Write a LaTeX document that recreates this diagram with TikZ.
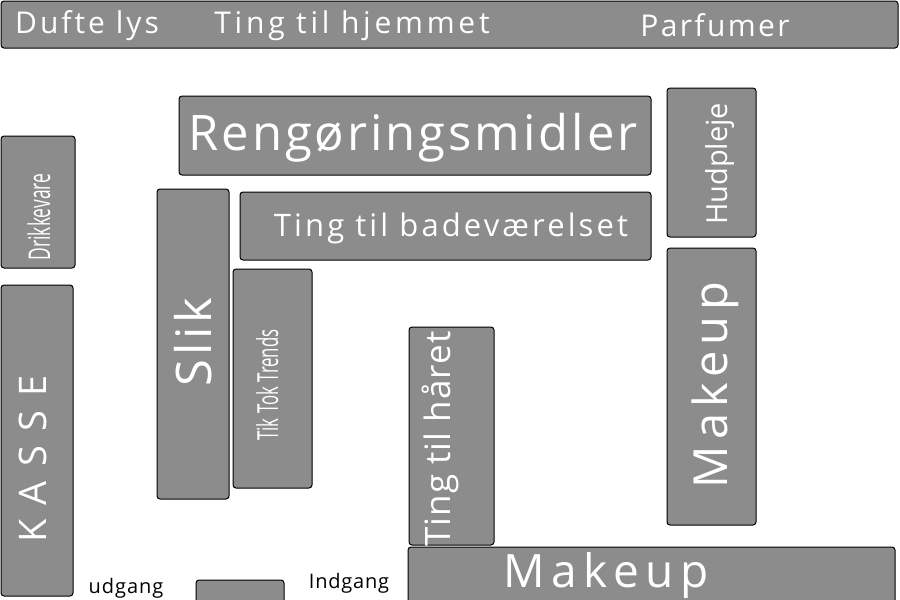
\documentclass[tikz,border=0pt]{standalone}
\usepackage{fontspec}
\setmainfont{Open Sans}
\newfontfamily\narrowfont[FakeStretch=0.58]{Open Sans}
\usetikzlibrary{positioning}
\definecolor{shelfgray}{RGB}{140,140,140}
\newcommand\lsize[2]{\fontsize{#1}{#1}\selectfont\addfontfeature{LetterSpace=#2}}

\begin{document}
\begin{tikzpicture}[x=1pt, y=-1pt,
    shelf/.style={draw=black, line width=1pt, fill=shelfgray, rounded corners=3pt, inner sep=0pt},
    lbl/.style={text=white, inner sep=0pt, anchor=base},
    floor/.style={text=black, inner sep=0pt, anchor=base}
]
    \useasboundingbox (0,0) rectangle (900,600);
    % hylder
    \node[shelf, minimum width=897, minimum height=47] (top) at (449.5,24.5) {};
    \node[shelf, minimum width=472, minimum height=79] (reng) at (415,135.5) {};
    \node[shelf, minimum width=74, minimum height=132] (drik) at (38,202) {};
    \node[shelf, minimum width=72, minimum height=310] (slik) at (193,344) {};
    \node[shelf, minimum width=411, minimum height=68] (bad) at (445.5,226) {};
    \node[shelf, minimum width=79, minimum height=219] (tiktok) at (272.5,378.5) {};
    \node[shelf, minimum width=89, minimum height=149] (hud) at (711.5,162.5) {};
    \node[shelf, minimum width=89, minimum height=277] (makeA) at (711.5,386.5) {};
    \node[shelf, minimum width=85, minimum height=218] (haar) at (451.5,436) {};
    \node[shelf, minimum width=72, minimum height=311] (kasse) at (37,440.5) {};
    \node[shelf, minimum width=487, minimum height=83] (makeB) at (651.5,588.5) {};
    \node[shelf, minimum width=88, minimum height=50] (dor) at (240,605) {};

    % tekster
    \node[lbl, font=\lsize{30}{10}] (tDufte) at (87,33) {Dufte lys};
    \node[lbl, font=\lsize{30}{12.5}] (tHjem) at (352,33) {Ting til hjemmet};
    \node[lbl, font=\lsize{30}{8}] (tParf) at (715,36) {Parfumer};
    \node[lbl, font=\lsize{49}{6}] (tReng) at (413,150) {Rengøringsmidler};
    \node[lbl, font=\lsize{31}{10}] (tBad) at (451,236) {Ting til badeværelset};
    \node[lbl, font=\lsize{49}{8}, rotate=90] (tSlik) at (211,342) {Slik};
    \node[lbl, font={\narrowfont\fontsize{30}{30}\selectfont}, rotate=90] (tDrik) at (50,217) {Drikkevare};
    \node[lbl, font={\narrowfont\fontsize{29}{29}\selectfont}, rotate=90] (tTik) at (278,385) {Tik Tok Trends};
    \node[lbl, font=\lsize{29}{0}, rotate=90] (tHud) at (727,164) {Hudpleje};
    \node[lbl, font=\lsize{47}{13}, rotate=90] (tMakeA) at (727,385) {Makeup};
    \node[lbl, font=\lsize{35}{3}, rotate=90] (tHaar) at (450,439) {Ting til håret};
    \node[lbl, font=\lsize{38}{38}, rotate=90] (tKasse) at (46,459) {KASSE};
    \node[lbl, font=\lsize{46}{14}] (tMakeB) at (606,587) {Makeup};
    \node[floor, font=\lsize{20}{5}] (tUd) at (126,593) {udgang};
    \node[floor, font=\lsize{20}{4}] (tInd) at (349,588) {Indgang};
\end{tikzpicture}
\end{document}
